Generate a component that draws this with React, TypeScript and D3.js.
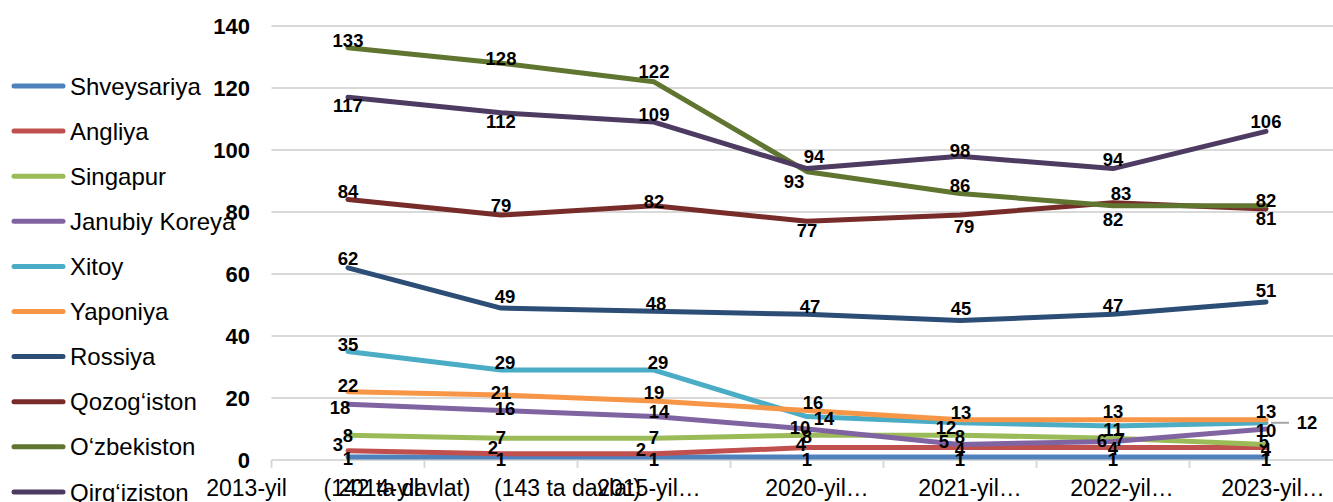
import React from "react";
import * as d3 from "d3";

// ---- data ----
const categories = ["2013", "2014", "2015", "2020", "2021", "2022", "2023"];
const seriesNames = [
  "Shveysariya",
  "Angliya",
  "Singapur",
  "Janubiy Koreya",
  "Xitoy",
  "Yaponiya",
  "Rossiya",
  "Qozog‘iston",
  "O‘zbekiston",
  "Qirg‘iziston",
];
const shveysariya = [1, 1, 1, 1, 1, 1, 1];
const angliya = [3, 2, 2, 4, 4, 4, 4];
const singapur = [8, 7, 7, 8, 8, 7, 5];
const janubiyKoreya = [18, 16, 14, 10, 5, 6, 10];
const xitoy = [35, 29, 29, 14, 12, 11, 12];
const yaponiya = [22, 21, 19, 16, 13, 13, 13];
const rossiya = [62, 49, 48, 47, 45, 47, 51];
const qozogiston = [84, 79, 82, 77, 79, 83, 81];
const ozbekiston = [133, 128, 122, 93, 86, 82, 82];
const qirgiziston = [117, 112, 109, 94, 98, 94, 106];
const yTicks = [0, 20, 40, 60, 80, 100, 120, 140];
// x-axis label pieces (text, category index)
const xLabelTexts = [
  "2013-yil",
  "(142 ta davlat)",
  "2014-yil",
  "(143 ta davlat)",
  "2015-yil…",
  "2020-yil…",
  "2021-yil…",
  "2022-yil…",
  "2023-yil…",
];
const xLabelCats = [0, 0, 1, 1, 2, 3, 4, 5, 6];

// ---- styles / layout ----
const colors = [
  "#4F81BD",
  "#C0504D",
  "#9BBB59",
  "#8064A2",
  "#4BACC6",
  "#F79646",
  "#2C4D75",
  "#772C2A",
  "#5F7530",
  "#4D3B62",
];
const xLabelDx = [-101.5, 49, -122.5, 66.5, -5, 10, 10, 9, 7];
// data label offsets [dx, dy] per series, per point
const labelOffsets: number[][][] = [
  [[0, 1], [0, 2], [0, 2], [0, 2], [0, 2], [0, 2], [0, 2]],
  [[-10, -6], [-8, -6], [-13, -4], [-6, -3], [0, 2], [0, 1], [0, 2]],
  [[0, 0], [0, -1], [0, -1], [0, 1], [0, 1], [7, 1], [-2, -3]],
  [[-8, 3], [4, -2], [5, -5], [-7, -2], [-16, -3], [-11, -1], [0, 1]],
  [[0, -7], [4, -8], [4, -8], [17, 2], [-14, 5], [0, 3], [41, 0]],
  [[0, -6], [0, -3], [0, -9], [6, -8], [1, -7], [0, -8], [0, -8]],
  [[0, -9], [4, -12], [2, -8], [3, -8], [1, -12], [0, -9], [0, -12]],
  [[0, -8], [0, -10], [0, -4], [0, 9], [4, 11], [8, -9], [0, 9]],
  [[0, -7], [0, -5], [0, -10], [-13, 10], [0, -8], [0, 14], [0, -5]],
  [[0, 8], [0, 9], [0, -8], [7, -12], [0, -6], [0, -9], [0, -10]],
];

const W = 1333;
const H = 502;
const FONT = "'Liberation Sans', Arial, Helvetica, sans-serif";

export default function App() {
  const allSeries = [
    shveysariya,
    angliya,
    singapur,
    janubiyKoreya,
    xitoy,
    yaponiya,
    rossiya,
    qozogiston,
    ozbekiston,
    qirgiziston,
  ];

  const xBand = d3
    .scaleBand<number>()
    .domain(categories.map((_, i) => i))
    .range([271.5, 1342.5])
    .padding(0);
  const xc = (i: number) => (xBand(i) as number) + xBand.bandwidth() / 2;
  const y = d3.scaleLinear().domain([0, 140]).range([460, 26]);

  const line = d3
    .line<number>()
    .x((_, i) => xc(i))
    .y((d) => y(d));

  const tickEdges = d3.range(categories.length + 1).map((k) =>
    k < categories.length ? (xBand(k) as number) : (xBand(k - 1) as number) + xBand.bandwidth()
  );

  return (
    <svg
      width={W}
      height={H}
      style={{ position: "absolute", left: 0, top: 0, background: "#fff" }}
      fontFamily={FONT}
    >
      <rect x={0} y={0} width={W} height={H} fill="#fff" />
      {/* gridlines */}
      {yTicks.map((t) => (
        <line
          key={"g" + t}
          x1={271.5}
          x2={1342.5}
          y1={y(t)}
          y2={y(t)}
          stroke="#D9D9D9"
          strokeWidth={2}
        />
      ))}
      {/* x tick marks */}
      {tickEdges.map((tx, k) => (
        <line key={"t" + k} x1={tx} x2={tx} y1={y(0)} y2={y(0) + 8} stroke="#D9D9D9" strokeWidth={2} />
      ))}
      {/* y tick labels */}
      {yTicks.map((t) => (
        <text
          key={"yl" + t}
          x={250}
          y={y(t)}
          dy="0.36em"
          textAnchor="end"
          fontSize={22}
          fontWeight="bold"
          fill="#000"
        >
          {t}
        </text>
      ))}
      {/* x labels */}
      {xLabelTexts.map((s, k) => (
        <text
          key={"xl" + k}
          x={xc(xLabelCats[k]) + xLabelDx[k]}
          y={496}
          textAnchor="middle"
          fontSize={23}
          fill="#000"
        >
          {s}
        </text>
      ))}
      {/* series lines */}
      {allSeries.map((vals, si) => (
        <path
          key={"s" + si}
          d={line(vals) as string}
          fill="none"
          stroke={colors[si]}
          strokeWidth={5}
          strokeLinejoin="round"
          strokeLinecap="round"
        />
      ))}
      {/* leader line for displaced label */}
      <line
        x1={xc(6) + 5}
        x2={xc(6) + 23}
        y1={y(xitoy[6])}
        y2={y(xitoy[6])}
        stroke="#A6A6A6"
        strokeWidth={2}
      />
      {/* data labels */}
      {allSeries.map((vals, si) =>
        vals.map((v, i) => (
          <text
            key={"dl" + si + "-" + i}
            x={xc(i) + labelOffsets[si][i][0]}
            y={y(v) + labelOffsets[si][i][1]}
            dy="0.36em"
            textAnchor="middle"
            fontSize={18.5}
            fontWeight="bold"
            fill="#000"
          >
            {v}
          </text>
        ))
      )}
      {/* legend */}
      {seriesNames.map((name, si) => {
        const ly = 86 + 45.1 * si;
        return (
          <g key={"lg" + si}>
            <line
              x1={14}
              x2={63}
              y1={ly}
              y2={ly}
              stroke={colors[si]}
              strokeWidth={5}
              strokeLinecap="round"
            />
            <text x={70} y={ly} dy="0.36em" fontSize={24} fill="#000">
              {name}
            </text>
          </g>
        );
      })}
    </svg>
  );
}
